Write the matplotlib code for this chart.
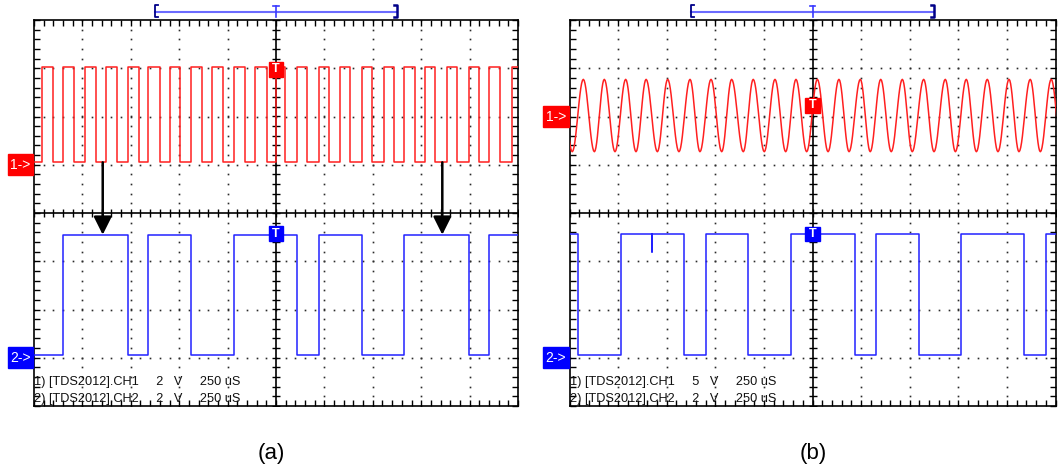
import matplotlib
matplotlib.use("Agg")
import matplotlib.pyplot as plt
import matplotlib.transforms as mtransforms
from matplotlib.patches import Rectangle
import numpy as np

plt.rcParams['font.family'] = ['Liberation Sans', 'DejaVu Sans']

# Time base: 250 uS/div, 10 divisions, trigger in the middle
US_PER_DIV = 250
T_MIN, T_MAX = -1250, 1250

# ---- (a) CH1 square carrier, CH2 divided output (times in uS) ----
a_ch1_rise = [-1209, -1099, -987, -878, -766, -660, -548, -439, -329, -217, -108, 0,
              108, 221, 332, 444, 556, 660, 771, 883, 995, 1099, 1219]
a_ch1_fall = [-1150, -1043, -931, -820, -706, -599, -496, -384, -272, -160, -45,
              48, 160, 272, 384, 496, 608, 720, 823, 935, 1047, 1159]
a_ch1_levels = (0.1, 4.05)      # low / high, V
a_ch2_edges = [-1099, -766, -660, -439, -217, 108, 221, 444, 660, 995, 1099]   # starts low
a_ch2_levels = (0.1, 5.1)
a_arrow_times = [-895, 859]

# ---- (b) CH1 sine carrier, CH2 divided output ----
b_ch1_peaks = [-1291, -1179, -1071, -961, -856, -745, -630, -522, -416, -305, -193, -85,
               25, 136, 246, 351, 462, 572, 683, 791, 899, 1011, 1120, 1228]
b_ch1_troughs = [-1236, -1122, -1016, -908, -798, -687, -579, -467, -356, -248, -138, -30,
                 80, 188, 297, 405, 513, 625, 735, 843, 954, 1062, 1172, 1283]
b_ch1_levels = (-3.65, 3.85)
b_ch2_edges = [-1205, -987, -659, -549, -330, -111, 219, 325, 548, 762, 1089, 1201]  # starts high
b_ch2_levels = (0.1, 5.15)
b_ch2_glitch = (-826, 4.4)      # short dip on the high level: time, bottom V

# channel settings: volts/div and ground position (div from centre)
a_scale = {'ch1': (2, 1.0), 'ch2': (2, -3.0)}
b_scale = {'ch1': (5, 2.0), 'ch2': (2, -3.0)}
a_trig = (3.96, 5.15)   # trigger marker levels, V
b_trig = (1.15, 5.13)

a_info = ["1) [TDS2012].CH1     2   V     250 uS", "2) [TDS2012].CH2     2   V     250 uS"]
b_info = ["1) [TDS2012].CH1     5   V     250 uS", "2) [TDS2012].CH2     2   V     250 uS"]

RED = '#ff1f1f'
BLUE = '#2222ff'


def to_div(volts, scale):
    vdiv, pos = scale
    return pos + np.asarray(volts, dtype=float) / vdiv


def step_trace(edges, start_high, levels):
    t = [T_MIN]
    v = [levels[1] if start_high else levels[0]]
    high = start_high
    for e in edges:
        high = not high
        t += [e, e]
        v += [v[-1], levels[1] if high else levels[0]]
    t.append(T_MAX)
    v.append(v[-1])
    return t, v


def add_glitch(t, v, when, depth):
    # insert a one-sample spike into a step trace
    i = int(np.searchsorted(t, when))
    base = v[i - 1]
    return t[:i] + [when, when, when] + t[i:], v[:i] + [base, depth, base] + v[i:]


def sine_trace(peaks, troughs, levels):
    ext = sorted([(t, levels[1]) for t in peaks] + [(t, levels[0]) for t in troughs])
    ts, vs = [], []
    s = np.linspace(0, 1, 14)
    for (t0, v0), (t1, v1) in zip(ext[:-1], ext[1:]):
        ts.extend(t0 + (t1 - t0) * s)
        vs.extend((v0 + v1) / 2 + (v0 - v1) / 2 * np.cos(np.pi * s))
    return ts, vs


def draw_graticule(ax):
    ax.set_xlim(T_MIN, T_MAX)
    ax.set_ylim(-4, 4)
    ax.set_xticks(np.arange(T_MIN, T_MAX + 1, US_PER_DIV))
    ax.set_xticks(np.arange(T_MIN, T_MAX + 1, US_PER_DIV / 5), minor=True)
    ax.set_yticks(np.arange(-4, 5, 1))
    ax.set_yticks(np.arange(-4, 4.01, 0.2), minor=True)
    ax.tick_params(which='both', direction='in', top=True, right=True,
                   labelleft=False, labelbottom=False, length=4, width=1, color='k')
    for sp in ax.spines.values():
        sp.set_linewidth(1.2)

    # centre cross with small ticks
    ax.axhline(0, color='k', lw=1.2, zorder=2)
    ax.axvline(0, color='k', lw=1.2, zorder=2)
    xm = np.arange(T_MIN, T_MAX + 1, US_PER_DIV / 5)
    ym = np.arange(-4, 4.01, 0.2)
    ax.plot(xm, np.zeros_like(xm), ls='none', marker='|', ms=6, mew=1, color='k', zorder=2)
    ax.plot(np.zeros_like(ym), ym, ls='none', marker='_', ms=6, mew=1, color='k', zorder=2)

    # dotted division lines
    xs = [x for x in np.arange(-1000, 1001, US_PER_DIV) if x != 0]
    ys = [y for y in range(-3, 4) if y != 0]
    dx, dy = [], []
    for x in xs:
        dx += [x] * len(ym)
        dy += list(ym)
    for y in ys:
        dx += list(xm)
        dy += [y] * len(xm)
    ax.plot(dx, dy, ls='none', marker='s', ms=1.2, mew=0, color='#2a2a2a', zorder=1)


def draw_markers(ax, scale, trig):
    blend = mtransforms.blended_transform_factory(ax.transAxes, ax.transData)
    for ch, label, col in (('ch1', '1->', '#ff0000'), ('ch2', '2->', '#0000ff')):
        y0 = scale[ch][1]
        ax.add_patch(Rectangle((-0.054, y0 - 0.22), 0.052, 0.44, transform=blend,
                               color=col, clip_on=False, zorder=5))
        ax.text(-0.028, y0, label, transform=blend, color='white', fontsize=10,
                ha='center', va='center', clip_on=False, zorder=6)
    for ch, lvl, col in (('ch1', trig[0], '#ff0000'), ('ch2', trig[1], '#0000ff')):
        y0 = float(to_div(lvl, scale[ch]))
        ax.add_patch(Rectangle((-38, y0 - 0.155), 76, 0.31, color=col, zorder=5, clip_on=False))
        ax.text(0, y0, 'T', color='white', fontsize=9, fontweight='bold',
                ha='center', va='center', zorder=6)

    # record-window bar above the screen
    yb = 4.17
    ax.plot([-625, 625], [yb, yb], color='#6b6bff', lw=1.5, clip_on=False)
    ax.plot([-612, -625, -625, -612], [4.31, 4.31, 4.06, 4.06], color='#000088', lw=1.3, clip_on=False)
    ax.plot([612, 625, 625, 612], [4.31, 4.31, 4.06, 4.06], color='#000088', lw=1.8, clip_on=False)
    ax.plot([-14, 14], [4.30, 4.30], color='#3a3aff', lw=1.2, clip_on=False)
    ax.plot([0, 0], [4.30, 4.06], color='#3a3aff', lw=1.2, clip_on=False)


def draw_info(ax, lines):
    ax.text(0.0, 0.063, lines[0], transform=ax.transAxes, fontsize=9.2,
            color='#111111', ha='left', va='center', zorder=7)
    ax.text(0.0, 0.019, lines[1], transform=ax.transAxes, fontsize=9.2,
            color='#111111', ha='left', va='center', zorder=7)


fig = plt.figure(figsize=(10.59, 4.74), dpi=100)
ax_a = fig.add_axes([34 / 1059, 68 / 474, 484 / 1059, 386 / 474])
ax_b = fig.add_axes([569.5 / 1059, 68 / 474, 486 / 1059, 386 / 474])

# panel (a)
draw_graticule(ax_a)
t, v = step_trace(sorted(a_ch1_rise + a_ch1_fall), False, a_ch1_levels)
ax_a.plot(t, to_div(v, a_scale['ch1']), color=RED, lw=1.1, zorder=3)
t, v = step_trace(a_ch2_edges, False, a_ch2_levels)
ax_a.plot(t, to_div(v, a_scale['ch2']), color=BLUE, lw=1.1, zorder=3)
for ta in a_arrow_times:
    ax_a.annotate('', xy=(ta, float(to_div(a_ch2_levels[1], a_scale['ch2']))),
                  xytext=(ta, float(to_div(a_ch1_levels[0], a_scale['ch1']))),
                  arrowprops=dict(arrowstyle='-|>,head_length=1.1,head_width=0.55',
                                  mutation_scale=10, color='k', lw=1.8,
                                  shrinkA=0, shrinkB=0), zorder=4)
draw_markers(ax_a, a_scale, a_trig)
draw_info(ax_a, a_info)

# panel (b)
draw_graticule(ax_b)
t, v = sine_trace(b_ch1_peaks, b_ch1_troughs, b_ch1_levels)
ax_b.plot(t, to_div(v, b_scale['ch1']), color=RED, lw=1.1, zorder=3)
t, v = step_trace(b_ch2_edges, True, b_ch2_levels)
t, v = add_glitch(t, v, *b_ch2_glitch)
ax_b.plot(t, to_div(v, b_scale['ch2']), color=BLUE, lw=1.1, zorder=3)
draw_markers(ax_b, b_scale, b_trig)
draw_info(ax_b, b_info)

fig.text(271 / 1059, 21 / 474, '(a)', fontsize=16, ha='center', va='center')
fig.text(813 / 1059, 21 / 474, '(b)', fontsize=16, ha='center', va='center')

fig.savefig('out.png', dpi=100, facecolor='white')
